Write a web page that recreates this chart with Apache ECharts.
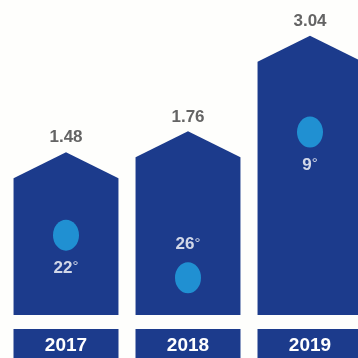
<!DOCTYPE html>
<html>
<head>
<meta charset="utf-8">
<script src="https://cdn.jsdelivr.net/npm/echarts@6/dist/echarts.min.js"></script>
<style>
html,body{margin:0;padding:0;background:#fefefc;}
#c{width:358px;height:358px;}
</style>
</head>
<body>
<div id="c"></div>
<script>
// Data
const years = ['2017', '2018', '2019'];
const values = [1.48, 1.76, 3.04];
const degrees = ['22', '26', '9'];
// vertical level of the light-blue dot inside each house (value-axis units)
const dotLevels = [0.37, -0.2, 1.75];
const dotLabelPos = ['bottom', 'top', 'bottom'];

const NAVY = '#1c3b8c';
const DOT = '#22a6e4';
const FONT = 'Liberation Sans, Arial, sans-serif';
const Y_MIN = -0.7, Y_MAX = 3.52;

const chart = echarts.init(document.getElementById('c'), null, {renderer: 'canvas'});

function renderHouse(params, api) {
  const i = api.value(0), v = api.value(1);
  const top = api.coord([i, v]);
  const base = api.coord([i, Y_MIN]);
  const w = api.size([1, 0])[0] * 0.86;
  const x0 = top[0] - w / 2, x1 = top[0] + w / 2;
  const roof = 26;
  return {
    type: 'group',
    children: [
      {
        type: 'polygon',
        shape: {points: [[x0, base[1]], [x0, top[1] + roof], [top[0], top[1]], [x1, top[1] + roof], [x1, base[1]]]},
        style: {fill: NAVY}
      },
      {
        type: 'text',
        style: {
          text: v.toFixed(2), x: top[0], y: top[1] - 6,
          align: 'center', verticalAlign: 'bottom',
          fill: '#646464', font: '600 17px ' + FONT
        }
      }
    ]
  };
}

chart.setOption({
  backgroundColor: '#fefefc',
  animation: false,
  grid: {left: 5, right: -13, top: 0, bottom: 43, outerBoundsMode: 'none', containLabel: false},
  xAxis: {
    type: 'category',
    data: years,
    axisLine: {show: false},
    axisTick: {show: false},
    splitLine: {show: false},
    axisLabel: {
      margin: 14,
      color: '#ffffff',
      fontFamily: FONT,
      fontWeight: 'bold',
      fontSize: 19,
      lineHeight: 24,
      backgroundColor: NAVY,
      width: 105,
      align: 'center',
      padding: [5, 0, 10, 0]
    }
  },
  yAxis: {
    type: 'value', min: Y_MIN, max: Y_MAX, show: false, splitLine: {show: false}
  },
  series: [
    {
      type: 'custom',
      renderItem: renderHouse,
      data: values.map((v, i) => [i, v]),
      z: 2
    },
    {
      type: 'scatter',
      symbol: 'circle',
      symbolSize: [26, 31],
      itemStyle: {color: DOT},
      z: 3,
      data: dotLevels.map((d, i) => ({
        value: [i, d],
        label: {
          show: true,
          position: dotLabelPos[i],
          distance: 9,
          formatter: '{n|' + degrees[i] + '}{d|°}',
          rich: {
            n: {color: '#ffffff', fontFamily: FONT, fontWeight: 'bold', fontSize: 17},
            d: {color: '#ffffff', fontFamily: FONT, fontWeight: 'normal', fontSize: 15, verticalAlign: 'top'}
          }
        }
      }))
    }
  ]
});
</script>
</body>
</html>
